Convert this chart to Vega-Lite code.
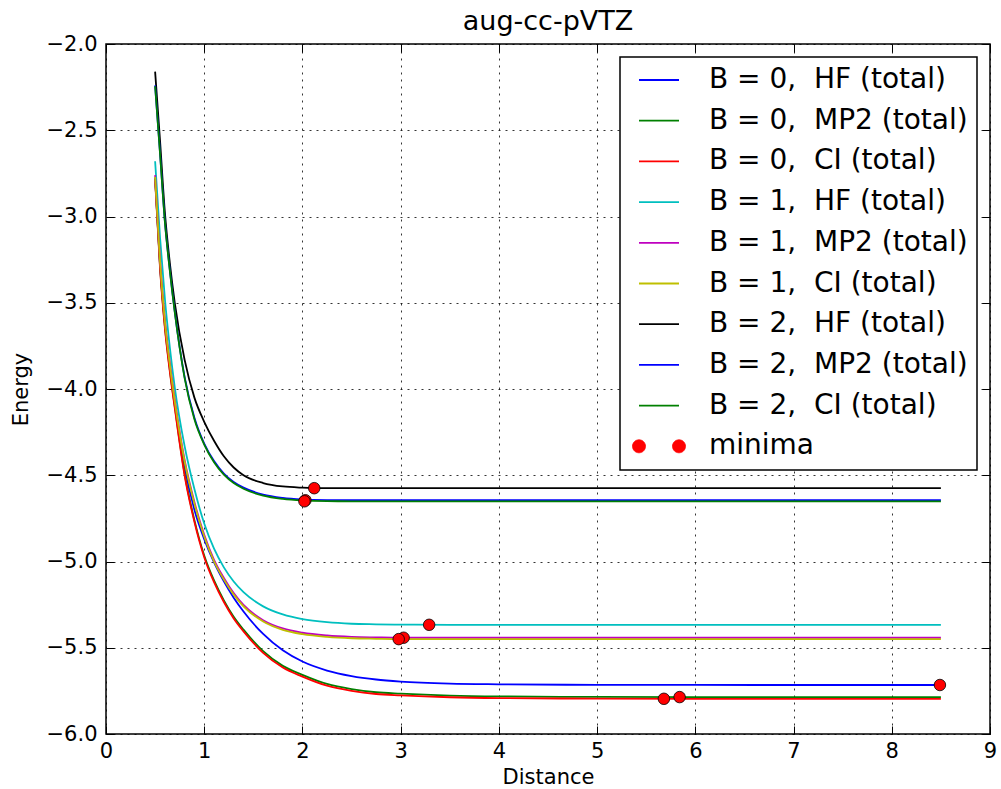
{
  "$schema": "https://vega.github.io/schema/vega-lite/v6.json",
  "width": 884,
  "height": 690,
  "autosize": "none",
  "padding": {"left": 106, "top": 44, "right": 11, "bottom": 55},
  "background": "white",
  "title": {"text": "aug-cc-pVTZ", "anchor": "middle", "offset": -3},
  "config": {
    "font": "DejaVu Sans",
    "view": {"stroke": "black", "strokeWidth": 1.5},
    "title": {"font": "DejaVu Sans", "fontSize": 27, "fontWeight": "normal", "color": "black"},
    "axis": {
      "domain": false,
      "ticks": true,
      "tickColor": "black",
      "tickSize": -8,
      "tickWidth": 1,
      "labelFont": "DejaVu Sans",
      "labelFontSize": 21,
      "labelColor": "black",
      "labelFlush": false,
      "labelOverlap": false,
      "titleFont": "DejaVu Sans",
      "titleFontSize": 21,
      "titleFontWeight": "normal",
      "titleColor": "black",
      "gridColor": "black",
      "gridDash": [2, 5],
      "gridWidth": 0.8,
      "gridOpacity": 1
    }
  },
  "resolve": {"scale": {"x": "shared", "y": "shared", "color": "shared"}, "axis": {"x": "independent", "y": "independent"}},
  "layer": [
    {
      "data": {"values": [
        {"series": "B = 0,\u00a0 HF (total)", "x": 0.5, "e": -2.78},
        {"series": "B = 0,\u00a0 HF (total)", "x": 0.55, "e": -3.28},
        {"series": "B = 0,\u00a0 HF (total)", "x": 0.6, "e": -3.62},
        {"series": "B = 0,\u00a0 HF (total)", "x": 0.65, "e": -3.87},
        {"series": "B = 0,\u00a0 HF (total)", "x": 0.7, "e": -4.08},
        {"series": "B = 0,\u00a0 HF (total)", "x": 0.8, "e": -4.45},
        {"series": "B = 0,\u00a0 HF (total)", "x": 0.9, "e": -4.70},
        {"series": "B = 0,\u00a0 HF (total)", "x": 1.0, "e": -4.87},
        {"series": "B = 0,\u00a0 HF (total)", "x": 1.1, "e": -5.005},
        {"series": "B = 0,\u00a0 HF (total)", "x": 1.2, "e": -5.115},
        {"series": "B = 0,\u00a0 HF (total)", "x": 1.3, "e": -5.21},
        {"series": "B = 0,\u00a0 HF (total)", "x": 1.4, "e": -5.29},
        {"series": "B = 0,\u00a0 HF (total)", "x": 1.6, "e": -5.42},
        {"series": "B = 0,\u00a0 HF (total)", "x": 1.8, "e": -5.515},
        {"series": "B = 0,\u00a0 HF (total)", "x": 2.0, "e": -5.58},
        {"series": "B = 0,\u00a0 HF (total)", "x": 2.25, "e": -5.632},
        {"series": "B = 0,\u00a0 HF (total)", "x": 2.5, "e": -5.664},
        {"series": "B = 0,\u00a0 HF (total)", "x": 2.75, "e": -5.684},
        {"series": "B = 0,\u00a0 HF (total)", "x": 3.0, "e": -5.696},
        {"series": "B = 0,\u00a0 HF (total)", "x": 3.5, "e": -5.708},
        {"series": "B = 0,\u00a0 HF (total)", "x": 4.0, "e": -5.712},
        {"series": "B = 0,\u00a0 HF (total)", "x": 5.0, "e": -5.715},
        {"series": "B = 0,\u00a0 HF (total)", "x": 6.0, "e": -5.7155},
        {"series": "B = 0,\u00a0 HF (total)", "x": 7.0, "e": -5.716},
        {"series": "B = 0,\u00a0 HF (total)", "x": 8.0, "e": -5.716},
        {"series": "B = 0,\u00a0 HF (total)", "x": 8.5, "e": -5.716},

        {"series": "B = 0,\u00a0 MP2 (total)", "x": 0.5, "e": -2.78},
        {"series": "B = 0,\u00a0 MP2 (total)", "x": 0.55, "e": -3.29},
        {"series": "B = 0,\u00a0 MP2 (total)", "x": 0.6, "e": -3.64},
        {"series": "B = 0,\u00a0 MP2 (total)", "x": 0.65, "e": -3.89},
        {"series": "B = 0,\u00a0 MP2 (total)", "x": 0.7, "e": -4.10},
        {"series": "B = 0,\u00a0 MP2 (total)", "x": 0.8, "e": -4.49},
        {"series": "B = 0,\u00a0 MP2 (total)", "x": 0.9, "e": -4.76},
        {"series": "B = 0,\u00a0 MP2 (total)", "x": 1.0, "e": -4.965},
        {"series": "B = 0,\u00a0 MP2 (total)", "x": 1.1, "e": -5.11},
        {"series": "B = 0,\u00a0 MP2 (total)", "x": 1.2, "e": -5.225},
        {"series": "B = 0,\u00a0 MP2 (total)", "x": 1.3, "e": -5.32},
        {"series": "B = 0,\u00a0 MP2 (total)", "x": 1.4, "e": -5.395},
        {"series": "B = 0,\u00a0 MP2 (total)", "x": 1.6, "e": -5.52},
        {"series": "B = 0,\u00a0 MP2 (total)", "x": 1.8, "e": -5.605},
        {"series": "B = 0,\u00a0 MP2 (total)", "x": 2.0, "e": -5.657},
        {"series": "B = 0,\u00a0 MP2 (total)", "x": 2.25, "e": -5.71},
        {"series": "B = 0,\u00a0 MP2 (total)", "x": 2.5, "e": -5.74},
        {"series": "B = 0,\u00a0 MP2 (total)", "x": 2.75, "e": -5.758},
        {"series": "B = 0,\u00a0 MP2 (total)", "x": 3.0, "e": -5.766},
        {"series": "B = 0,\u00a0 MP2 (total)", "x": 3.5, "e": -5.777},
        {"series": "B = 0,\u00a0 MP2 (total)", "x": 4.0, "e": -5.782},
        {"series": "B = 0,\u00a0 MP2 (total)", "x": 5.0, "e": -5.785},
        {"series": "B = 0,\u00a0 MP2 (total)", "x": 6.0, "e": -5.786},
        {"series": "B = 0,\u00a0 MP2 (total)", "x": 7.0, "e": -5.786},
        {"series": "B = 0,\u00a0 MP2 (total)", "x": 8.0, "e": -5.786},
        {"series": "B = 0,\u00a0 MP2 (total)", "x": 8.5, "e": -5.786},

        {"series": "B = 0,\u00a0 CI (total)", "x": 0.5, "e": -2.79},
        {"series": "B = 0,\u00a0 CI (total)", "x": 0.55, "e": -3.30},
        {"series": "B = 0,\u00a0 CI (total)", "x": 0.6, "e": -3.65},
        {"series": "B = 0,\u00a0 CI (total)", "x": 0.65, "e": -3.90},
        {"series": "B = 0,\u00a0 CI (total)", "x": 0.7, "e": -4.11},
        {"series": "B = 0,\u00a0 CI (total)", "x": 0.8, "e": -4.50},
        {"series": "B = 0,\u00a0 CI (total)", "x": 0.9, "e": -4.77},
        {"series": "B = 0,\u00a0 CI (total)", "x": 1.0, "e": -4.975},
        {"series": "B = 0,\u00a0 CI (total)", "x": 1.1, "e": -5.12},
        {"series": "B = 0,\u00a0 CI (total)", "x": 1.2, "e": -5.235},
        {"series": "B = 0,\u00a0 CI (total)", "x": 1.3, "e": -5.33},
        {"series": "B = 0,\u00a0 CI (total)", "x": 1.4, "e": -5.405},
        {"series": "B = 0,\u00a0 CI (total)", "x": 1.6, "e": -5.53},
        {"series": "B = 0,\u00a0 CI (total)", "x": 1.8, "e": -5.615},
        {"series": "B = 0,\u00a0 CI (total)", "x": 2.0, "e": -5.667},
        {"series": "B = 0,\u00a0 CI (total)", "x": 2.25, "e": -5.72},
        {"series": "B = 0,\u00a0 CI (total)", "x": 2.5, "e": -5.75},
        {"series": "B = 0,\u00a0 CI (total)", "x": 2.75, "e": -5.768},
        {"series": "B = 0,\u00a0 CI (total)", "x": 3.0, "e": -5.776},
        {"series": "B = 0,\u00a0 CI (total)", "x": 3.5, "e": -5.787},
        {"series": "B = 0,\u00a0 CI (total)", "x": 4.0, "e": -5.792},
        {"series": "B = 0,\u00a0 CI (total)", "x": 5.0, "e": -5.795},
        {"series": "B = 0,\u00a0 CI (total)", "x": 6.0, "e": -5.796},
        {"series": "B = 0,\u00a0 CI (total)", "x": 7.0, "e": -5.796},
        {"series": "B = 0,\u00a0 CI (total)", "x": 8.0, "e": -5.796},
        {"series": "B = 0,\u00a0 CI (total)", "x": 8.5, "e": -5.796},

        {"series": "B = 1,\u00a0 HF (total)", "x": 0.5, "e": -2.68},
        {"series": "B = 1,\u00a0 HF (total)", "x": 0.55, "e": -3.12},
        {"series": "B = 1,\u00a0 HF (total)", "x": 0.6, "e": -3.48},
        {"series": "B = 1,\u00a0 HF (total)", "x": 0.65, "e": -3.76},
        {"series": "B = 1,\u00a0 HF (total)", "x": 0.7, "e": -3.99},
        {"series": "B = 1,\u00a0 HF (total)", "x": 0.8, "e": -4.33},
        {"series": "B = 1,\u00a0 HF (total)", "x": 0.9, "e": -4.58},
        {"series": "B = 1,\u00a0 HF (total)", "x": 1.0, "e": -4.78},
        {"series": "B = 1,\u00a0 HF (total)", "x": 1.1, "e": -4.926},
        {"series": "B = 1,\u00a0 HF (total)", "x": 1.2, "e": -5.034},
        {"series": "B = 1,\u00a0 HF (total)", "x": 1.3, "e": -5.116},
        {"series": "B = 1,\u00a0 HF (total)", "x": 1.4, "e": -5.178},
        {"series": "B = 1,\u00a0 HF (total)", "x": 1.6, "e": -5.26},
        {"series": "B = 1,\u00a0 HF (total)", "x": 1.8, "e": -5.307},
        {"series": "B = 1,\u00a0 HF (total)", "x": 2.0, "e": -5.334},
        {"series": "B = 1,\u00a0 HF (total)", "x": 2.25, "e": -5.352},
        {"series": "B = 1,\u00a0 HF (total)", "x": 2.5, "e": -5.361},
        {"series": "B = 1,\u00a0 HF (total)", "x": 2.75, "e": -5.364},
        {"series": "B = 1,\u00a0 HF (total)", "x": 3.0, "e": -5.366},
        {"series": "B = 1,\u00a0 HF (total)", "x": 3.5, "e": -5.367},
        {"series": "B = 1,\u00a0 HF (total)", "x": 4.0, "e": -5.367},
        {"series": "B = 1,\u00a0 HF (total)", "x": 5.0, "e": -5.367},
        {"series": "B = 1,\u00a0 HF (total)", "x": 6.0, "e": -5.367},
        {"series": "B = 1,\u00a0 HF (total)", "x": 7.0, "e": -5.367},
        {"series": "B = 1,\u00a0 HF (total)", "x": 8.0, "e": -5.367},
        {"series": "B = 1,\u00a0 HF (total)", "x": 8.5, "e": -5.367},

        {"series": "B = 1,\u00a0 MP2 (total)", "x": 0.5, "e": -2.76},
        {"series": "B = 1,\u00a0 MP2 (total)", "x": 0.55, "e": -3.25},
        {"series": "B = 1,\u00a0 MP2 (total)", "x": 0.6, "e": -3.60},
        {"series": "B = 1,\u00a0 MP2 (total)", "x": 0.65, "e": -3.85},
        {"series": "B = 1,\u00a0 MP2 (total)", "x": 0.7, "e": -4.06},
        {"series": "B = 1,\u00a0 MP2 (total)", "x": 0.8, "e": -4.41},
        {"series": "B = 1,\u00a0 MP2 (total)", "x": 0.9, "e": -4.655},
        {"series": "B = 1,\u00a0 MP2 (total)", "x": 1.0, "e": -4.845},
        {"series": "B = 1,\u00a0 MP2 (total)", "x": 1.1, "e": -4.99},
        {"series": "B = 1,\u00a0 MP2 (total)", "x": 1.2, "e": -5.095},
        {"series": "B = 1,\u00a0 MP2 (total)", "x": 1.3, "e": -5.183},
        {"series": "B = 1,\u00a0 MP2 (total)", "x": 1.4, "e": -5.252},
        {"series": "B = 1,\u00a0 MP2 (total)", "x": 1.6, "e": -5.34},
        {"series": "B = 1,\u00a0 MP2 (total)", "x": 1.8, "e": -5.388},
        {"series": "B = 1,\u00a0 MP2 (total)", "x": 2.0, "e": -5.413},
        {"series": "B = 1,\u00a0 MP2 (total)", "x": 2.25, "e": -5.429},
        {"series": "B = 1,\u00a0 MP2 (total)", "x": 2.5, "e": -5.437},
        {"series": "B = 1,\u00a0 MP2 (total)", "x": 2.75, "e": -5.44},
        {"series": "B = 1,\u00a0 MP2 (total)", "x": 3.0, "e": -5.442},
        {"series": "B = 1,\u00a0 MP2 (total)", "x": 3.5, "e": -5.442},
        {"series": "B = 1,\u00a0 MP2 (total)", "x": 4.0, "e": -5.442},
        {"series": "B = 1,\u00a0 MP2 (total)", "x": 5.0, "e": -5.442},
        {"series": "B = 1,\u00a0 MP2 (total)", "x": 6.0, "e": -5.442},
        {"series": "B = 1,\u00a0 MP2 (total)", "x": 7.0, "e": -5.442},
        {"series": "B = 1,\u00a0 MP2 (total)", "x": 8.0, "e": -5.442},
        {"series": "B = 1,\u00a0 MP2 (total)", "x": 8.5, "e": -5.442},

        {"series": "B = 1,\u00a0 CI (total)", "x": 0.5, "e": -2.77},
        {"series": "B = 1,\u00a0 CI (total)", "x": 0.55, "e": -3.26},
        {"series": "B = 1,\u00a0 CI (total)", "x": 0.6, "e": -3.61},
        {"series": "B = 1,\u00a0 CI (total)", "x": 0.65, "e": -3.86},
        {"series": "B = 1,\u00a0 CI (total)", "x": 0.7, "e": -4.07},
        {"series": "B = 1,\u00a0 CI (total)", "x": 0.8, "e": -4.42},
        {"series": "B = 1,\u00a0 CI (total)", "x": 0.9, "e": -4.665},
        {"series": "B = 1,\u00a0 CI (total)", "x": 1.0, "e": -4.855},
        {"series": "B = 1,\u00a0 CI (total)", "x": 1.1, "e": -5.0},
        {"series": "B = 1,\u00a0 CI (total)", "x": 1.2, "e": -5.105},
        {"series": "B = 1,\u00a0 CI (total)", "x": 1.3, "e": -5.192},
        {"series": "B = 1,\u00a0 CI (total)", "x": 1.4, "e": -5.26},
        {"series": "B = 1,\u00a0 CI (total)", "x": 1.6, "e": -5.348},
        {"series": "B = 1,\u00a0 CI (total)", "x": 1.8, "e": -5.396},
        {"series": "B = 1,\u00a0 CI (total)", "x": 2.0, "e": -5.421},
        {"series": "B = 1,\u00a0 CI (total)", "x": 2.25, "e": -5.437},
        {"series": "B = 1,\u00a0 CI (total)", "x": 2.5, "e": -5.445},
        {"series": "B = 1,\u00a0 CI (total)", "x": 2.75, "e": -5.448},
        {"series": "B = 1,\u00a0 CI (total)", "x": 3.0, "e": -5.45},
        {"series": "B = 1,\u00a0 CI (total)", "x": 3.5, "e": -5.45},
        {"series": "B = 1,\u00a0 CI (total)", "x": 4.0, "e": -5.45},
        {"series": "B = 1,\u00a0 CI (total)", "x": 5.0, "e": -5.45},
        {"series": "B = 1,\u00a0 CI (total)", "x": 6.0, "e": -5.45},
        {"series": "B = 1,\u00a0 CI (total)", "x": 7.0, "e": -5.45},
        {"series": "B = 1,\u00a0 CI (total)", "x": 8.0, "e": -5.45},
        {"series": "B = 1,\u00a0 CI (total)", "x": 8.5, "e": -5.45},

        {"series": "B = 2,\u00a0 HF (total)", "x": 0.5, "e": -2.16},
        {"series": "B = 2,\u00a0 HF (total)", "x": 0.55, "e": -2.56},
        {"series": "B = 2,\u00a0 HF (total)", "x": 0.6, "e": -2.98},
        {"series": "B = 2,\u00a0 HF (total)", "x": 0.65, "e": -3.27},
        {"series": "B = 2,\u00a0 HF (total)", "x": 0.7, "e": -3.5},
        {"series": "B = 2,\u00a0 HF (total)", "x": 0.8, "e": -3.83},
        {"series": "B = 2,\u00a0 HF (total)", "x": 0.9, "e": -4.05},
        {"series": "B = 2,\u00a0 HF (total)", "x": 1.0, "e": -4.19},
        {"series": "B = 2,\u00a0 HF (total)", "x": 1.1, "e": -4.30},
        {"series": "B = 2,\u00a0 HF (total)", "x": 1.2, "e": -4.39},
        {"series": "B = 2,\u00a0 HF (total)", "x": 1.3, "e": -4.455},
        {"series": "B = 2,\u00a0 HF (total)", "x": 1.4, "e": -4.50},
        {"series": "B = 2,\u00a0 HF (total)", "x": 1.6, "e": -4.545},
        {"series": "B = 2,\u00a0 HF (total)", "x": 1.8, "e": -4.565},
        {"series": "B = 2,\u00a0 HF (total)", "x": 2.0, "e": -4.572},
        {"series": "B = 2,\u00a0 HF (total)", "x": 2.25, "e": -4.575},
        {"series": "B = 2,\u00a0 HF (total)", "x": 2.5, "e": -4.575},
        {"series": "B = 2,\u00a0 HF (total)", "x": 2.75, "e": -4.575},
        {"series": "B = 2,\u00a0 HF (total)", "x": 3.0, "e": -4.575},
        {"series": "B = 2,\u00a0 HF (total)", "x": 3.5, "e": -4.575},
        {"series": "B = 2,\u00a0 HF (total)", "x": 4.0, "e": -4.575},
        {"series": "B = 2,\u00a0 HF (total)", "x": 5.0, "e": -4.575},
        {"series": "B = 2,\u00a0 HF (total)", "x": 6.0, "e": -4.575},
        {"series": "B = 2,\u00a0 HF (total)", "x": 7.0, "e": -4.575},
        {"series": "B = 2,\u00a0 HF (total)", "x": 8.0, "e": -4.575},
        {"series": "B = 2,\u00a0 HF (total)", "x": 8.5, "e": -4.575},

        {"series": "B = 2,\u00a0 MP2 (total)", "x": 0.5, "e": -2.24},
        {"series": "B = 2,\u00a0 MP2 (total)", "x": 0.55, "e": -2.63},
        {"series": "B = 2,\u00a0 MP2 (total)", "x": 0.6, "e": -3.03},
        {"series": "B = 2,\u00a0 MP2 (total)", "x": 0.65, "e": -3.31},
        {"series": "B = 2,\u00a0 MP2 (total)", "x": 0.7, "e": -3.55},
        {"series": "B = 2,\u00a0 MP2 (total)", "x": 0.8, "e": -3.93},
        {"series": "B = 2,\u00a0 MP2 (total)", "x": 0.9, "e": -4.166},
        {"series": "B = 2,\u00a0 MP2 (total)", "x": 1.0, "e": -4.316},
        {"series": "B = 2,\u00a0 MP2 (total)", "x": 1.1, "e": -4.418},
        {"series": "B = 2,\u00a0 MP2 (total)", "x": 1.2, "e": -4.49},
        {"series": "B = 2,\u00a0 MP2 (total)", "x": 1.3, "e": -4.539},
        {"series": "B = 2,\u00a0 MP2 (total)", "x": 1.4, "e": -4.572},
        {"series": "B = 2,\u00a0 MP2 (total)", "x": 1.6, "e": -4.612},
        {"series": "B = 2,\u00a0 MP2 (total)", "x": 1.8, "e": -4.631},
        {"series": "B = 2,\u00a0 MP2 (total)", "x": 2.0, "e": -4.64},
        {"series": "B = 2,\u00a0 MP2 (total)", "x": 2.25, "e": -4.644},
        {"series": "B = 2,\u00a0 MP2 (total)", "x": 2.5, "e": -4.645},
        {"series": "B = 2,\u00a0 MP2 (total)", "x": 2.75, "e": -4.645},
        {"series": "B = 2,\u00a0 MP2 (total)", "x": 3.0, "e": -4.645},
        {"series": "B = 2,\u00a0 MP2 (total)", "x": 3.5, "e": -4.645},
        {"series": "B = 2,\u00a0 MP2 (total)", "x": 4.0, "e": -4.645},
        {"series": "B = 2,\u00a0 MP2 (total)", "x": 5.0, "e": -4.645},
        {"series": "B = 2,\u00a0 MP2 (total)", "x": 6.0, "e": -4.645},
        {"series": "B = 2,\u00a0 MP2 (total)", "x": 7.0, "e": -4.645},
        {"series": "B = 2,\u00a0 MP2 (total)", "x": 8.0, "e": -4.645},
        {"series": "B = 2,\u00a0 MP2 (total)", "x": 8.5, "e": -4.645},

        {"series": "B = 2,\u00a0 CI (total)", "x": 0.5, "e": -2.245},
        {"series": "B = 2,\u00a0 CI (total)", "x": 0.55, "e": -2.635},
        {"series": "B = 2,\u00a0 CI (total)", "x": 0.6, "e": -3.035},
        {"series": "B = 2,\u00a0 CI (total)", "x": 0.65, "e": -3.315},
        {"series": "B = 2,\u00a0 CI (total)", "x": 0.7, "e": -3.555},
        {"series": "B = 2,\u00a0 CI (total)", "x": 0.8, "e": -3.935},
        {"series": "B = 2,\u00a0 CI (total)", "x": 0.9, "e": -4.175},
        {"series": "B = 2,\u00a0 CI (total)", "x": 1.0, "e": -4.322},
        {"series": "B = 2,\u00a0 CI (total)", "x": 1.1, "e": -4.424},
        {"series": "B = 2,\u00a0 CI (total)", "x": 1.2, "e": -4.496},
        {"series": "B = 2,\u00a0 CI (total)", "x": 1.3, "e": -4.545},
        {"series": "B = 2,\u00a0 CI (total)", "x": 1.4, "e": -4.578},
        {"series": "B = 2,\u00a0 CI (total)", "x": 1.6, "e": -4.618},
        {"series": "B = 2,\u00a0 CI (total)", "x": 1.8, "e": -4.637},
        {"series": "B = 2,\u00a0 CI (total)", "x": 2.0, "e": -4.646},
        {"series": "B = 2,\u00a0 CI (total)", "x": 2.25, "e": -4.65},
        {"series": "B = 2,\u00a0 CI (total)", "x": 2.5, "e": -4.651},
        {"series": "B = 2,\u00a0 CI (total)", "x": 2.75, "e": -4.651},
        {"series": "B = 2,\u00a0 CI (total)", "x": 3.0, "e": -4.651},
        {"series": "B = 2,\u00a0 CI (total)", "x": 3.5, "e": -4.651},
        {"series": "B = 2,\u00a0 CI (total)", "x": 4.0, "e": -4.651},
        {"series": "B = 2,\u00a0 CI (total)", "x": 5.0, "e": -4.651},
        {"series": "B = 2,\u00a0 CI (total)", "x": 6.0, "e": -4.651},
        {"series": "B = 2,\u00a0 CI (total)", "x": 7.0, "e": -4.651},
        {"series": "B = 2,\u00a0 CI (total)", "x": 8.0, "e": -4.651},
        {"series": "B = 2,\u00a0 CI (total)", "x": 8.5, "e": -4.651}
      ]},
      "mark": {"type": "line", "strokeWidth": 1.8, "interpolate": "monotone"},
      "encoding": {
        "x": {"field": "x", "type": "quantitative",
          "scale": {"domain": [0, 9], "nice": false, "zero": false},
          "axis": {"orient": "bottom", "values": [0, 1, 2, 3, 4, 5, 6, 7, 8, 9], "format": "d", "title": "Distance", "grid": true, "labelPadding": 14, "titlePadding": 5}},
        "y": {"field": "e", "type": "quantitative",
          "scale": {"domain": [-6, -2], "nice": false, "zero": false},
          "axis": {"orient": "left", "values": [-6, -5.5, -5, -4.5, -4, -3.5, -3, -2.5, -2], "format": ".1f", "title": "Energy", "grid": true, "labelPadding": 17, "titlePadding": 15}},
        "color": {"field": "series", "type": "nominal",
          "scale": {
            "domain": ["B = 0,\u00a0 HF (total)", "B = 0,\u00a0 MP2 (total)", "B = 0,\u00a0 CI (total)", "B = 1,\u00a0 HF (total)", "B = 1,\u00a0 MP2 (total)", "B = 1,\u00a0 CI (total)", "B = 2,\u00a0 HF (total)", "B = 2,\u00a0 MP2 (total)", "B = 2,\u00a0 CI (total)", "minima"],
            "range": ["#0000ff", "#008000", "#ff0000", "#00bfbf", "#bf00bf", "#bfbf00", "#000000", "#0000ff", "#008000", "#ff0000"]
          },
          "legend": {
            "title": null,
            "orient": "top-right",
            "offset": 13,
            "symbolType": "stroke",
            "symbolSize": 1600,
            "symbolStrokeWidth": 1.8,
            "labelFont": "DejaVu Sans",
            "labelFontSize": 28,
            "labelColor": "black",
            "labelOffset": 36,
            "labelLimit": 500,
            "rowPadding": 12.7,
            "padding": 9,
            "symbolOffset": 16,
            "strokeColor": "black",
            "fillColor": "white",
            "cornerRadius": 0,
            "encode": {
              "legend": {"update": {"strokeWidth": {"value": 1.5}}},
              "symbols": {"update": {
                "shape": {"signal": "datum.value === 'minima' ? 'M -0.675 0 A 0.325 0.325 0 1 0 -1.325 0 A 0.325 0.325 0 1 0 -0.675 0 Z M 1.325 0 A 0.325 0.325 0 1 0 0.675 0 A 0.325 0.325 0 1 0 1.325 0 Z' : 'stroke'"},
                "fill": {"signal": "datum.value === 'minima' ? '#ff0000' : 'transparent'"},
                "stroke": {"signal": "datum.value === 'minima' ? '#000000' : scale('color', datum.value)"},
                "strokeWidth": {"signal": "datum.value === 'minima' ? 0.8 : 1.8"},
                "opacity": {"value": 1}
              }}
            }
          }
        }
      }
    },
    {
      "data": {"values": [
        {"series": "minima", "x": 8.49, "e": -5.716},
        {"series": "minima", "x": 5.84, "e": -5.786},
        {"series": "minima", "x": 5.68, "e": -5.796},
        {"series": "minima", "x": 3.29, "e": -5.367},
        {"series": "minima", "x": 3.03, "e": -5.442},
        {"series": "minima", "x": 2.98, "e": -5.45},
        {"series": "minima", "x": 2.12, "e": -4.575},
        {"series": "minima", "x": 2.03, "e": -4.645},
        {"series": "minima", "x": 2.02, "e": -4.651}
      ]},
      "mark": {"type": "point", "filled": true, "size": 133, "stroke": "black", "strokeWidth": 0.8, "opacity": 1},
      "encoding": {
        "x": {"field": "x", "type": "quantitative",
          "axis": {"orient": "top", "values": [0, 1, 2, 3, 4, 5, 6, 7, 8, 9], "labels": false, "title": null, "grid": false}},
        "y": {"field": "e", "type": "quantitative",
          "axis": {"orient": "right", "values": [-6, -5.5, -5, -4.5, -4, -3.5, -3, -2.5, -2], "labels": false, "title": null, "grid": false}},
        "color": {"field": "series", "type": "nominal"}
      }
    }
  ]
}
